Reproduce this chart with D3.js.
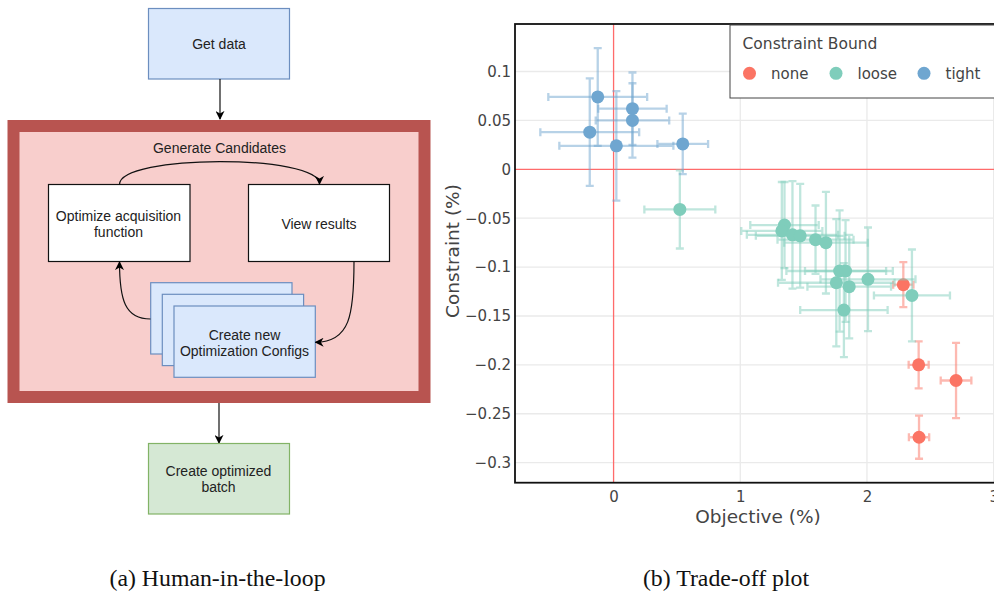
<!DOCTYPE html>
<html><head><meta charset="utf-8">
<script src="https://cdn.jsdelivr.net/npm/d3@7/dist/d3.min.js"></script>
<style>html,body{margin:0;padding:0;background:#fff;}svg{display:block;}</style>
</head><body>
<svg id="c" width="994" height="592"></svg>
<script>
// ---------- data ----------
const bounds = ["none", "loose", "tight"];
const boundColors = ["#fb7464", "#7fcdbb", "#6fa6d0"];

const noneObjective  = [2.287, 2.408, 2.703, 2.411];
const noneConstraint = [-0.118, -0.200, -0.216, -0.274];
const noneObjErr     = [0.08, 0.079, 0.121, 0.08];
const noneConErr     = [0.023, 0.024, 0.0385, 0.022];

const looseObjective  = [0.523, 1.349, 1.328, 1.412, 1.473, 1.594, 1.676, 1.784, 1.831, 1.758, 1.860, 2.008, 2.355, 1.818];
const looseConstraint = [-0.041, -0.057, -0.063, -0.067, -0.068, -0.072, -0.075, -0.104, -0.104, -0.116, -0.120, -0.1125, -0.129, -0.144];
const looseObjErr     = [0.28, 0.27, 0.32, 0.36, 0.35, 0.30, 0.33, 0.42, 0.32, 0.46, 0.33, 0.375, 0.30, 0.345];
const looseConErr     = [0.040, 0.044, 0.050, 0.055, 0.053, 0.035, 0.052, 0.062, 0.052, 0.065, 0.053, 0.053, 0.047, 0.048];

const tightObjective  = [-0.125, 0.149, 0.149, -0.188, 0.022, 0.546];
const tightConstraint = [0.074, 0.062, 0.050, 0.038, 0.024, 0.026];
const tightObjErr     = [0.39, 0.27, 0.29, 0.39, 0.45, 0.20];
const tightConErr     = [0.05, 0.037, 0.038, 0.055, 0.056, 0.031];

const xTickValues = [0, 1, 2, 3];
const xTickLabels = ["0", "1", "2", "3"];
const yTickValues = [-0.3, -0.25, -0.2, -0.15, -0.1, -0.05, 0, 0.05, 0.1];
const yTickLabels = ["\u22120.3", "\u22120.25", "\u22120.2", "\u22120.15", "\u22120.1", "\u22120.05", "0", "0.05", "0.1"];

// ---------- setup ----------
const svg = d3.select("#c");
svg.append("rect").attr("width", 994).attr("height", 592).attr("fill", "#fff");

const defs = svg.append("defs");
defs.append("marker").attr("id", "arr")
  .attr("viewBox", "0 0 10 10").attr("refX", 9).attr("refY", 5)
  .attr("markerUnits", "userSpaceOnUse").attr("markerWidth", 9).attr("markerHeight", 9)
  .attr("orient", "auto")
  .append("path").attr("d", "M0,0 L10,5 L0,10 L3,5 Z").attr("fill", "#000");

// ---------- (a) flow diagram ----------
const fc = svg.append("g").attr("font-family", "'Liberation Sans', Arial, sans-serif")
  .attr("font-size", 14).attr("fill", "#222");

function box(x, y, w, h, fill, stroke, sw) {
  fc.append("rect").attr("x", x).attr("y", y).attr("width", w).attr("height", h)
    .attr("fill", fill).attr("stroke", stroke).attr("stroke-width", sw || 1.2);
}
function label(x, y, lines) {
  lines.forEach((t, i) => fc.append("text").attr("x", x).attr("y", y + i * 16)
    .attr("text-anchor", "middle").attr("fill", "#222").text(t));
}
function arrow(d) {
  fc.append("path").attr("d", d).attr("fill", "none").attr("stroke", "#111")
    .attr("stroke-width", 1.2).attr("marker-end", "url(#arr)");
}

box(148.5, 8.5, 141, 70.5, "#dae8fc", "#6c8ebf");
label(219, 49, ["Get data"]);
arrow("M220,79 L220,119");

box(13.5, 126, 411, 271, "#f8cecc", "#b85450", 12);
label(219.5, 153, ["Generate Candidates"]);

box(48.5, 184.5, 141.5, 77, "#fff", "#111");
label(118.5, 221, ["Optimize acquisition", "function"]);
box(248.5, 184.5, 141, 77, "#fff", "#111");
label(319, 229, ["View results"]);

arrow("M119.5,184.5 C119.5,154 319.5,154 319.5,184");

box(150.7, 282.7, 141.3, 71.3, "#dae8fc", "#6c8ebf");
box(162.3, 294.3, 141.3, 71.3, "#dae8fc", "#6c8ebf");
box(174, 306, 141.3, 71.3, "#dae8fc", "#6c8ebf");
label(244.5, 340, ["Create new", "Optimization Configs"]);

arrow("M150.5,319 C125,319 119.5,300 119.5,262");
arrow("M354,261.5 C354,315 350,342 315.5,342.3");

arrow("M219,403 L219,443");
box(148.5, 443.5, 141, 70.5, "#d5e8d4", "#82b366");
label(218.5, 476, ["Create optimized", "batch"]);

svg.append("text").attr("x", 217.5).attr("y", 586).attr("text-anchor", "middle")
  .attr("font-family", "'Liberation Serif', 'Times New Roman', serif").attr("font-size", 23.8)
  .attr("fill", "#111").text("(a) Human-in-the-loop");

// ---------- (b) trade-off plot ----------
const plotL = 515, plotR = 1000, plotT = 24, plotB = 482.7;
const x = d3.scaleLinear().domain([-0.778, 3.05]).range([plotL, plotR]);
const y = d3.scaleLinear().domain([-0.3205, 0.1486]).range([plotB, plotT]);

const pg = svg.append("g");
// gridlines
pg.selectAll("line.gx").data(xTickValues.filter(v => v !== 0)).join("line")
  .attr("x1", d => x(d)).attr("x2", d => x(d)).attr("y1", plotT).attr("y2", plotB)
  .attr("stroke", "#eaeaea").attr("stroke-width", 1.3);
pg.selectAll("line.gy").data(yTickValues.filter(v => v !== 0)).join("line")
  .attr("y1", d => y(d)).attr("y2", d => y(d)).attr("x1", plotL).attr("x2", plotR)
  .attr("stroke", "#eaeaea").attr("stroke-width", 1.3);
// zero lines
pg.append("line").attr("x1", x(0)).attr("x2", x(0)).attr("y1", plotT).attr("y2", plotB)
  .attr("stroke", "#ff6b6b").attr("stroke-width", 1.3);
pg.append("line").attr("y1", y(0)).attr("y2", y(0)).attr("x1", plotL).attr("x2", plotR)
  .attr("stroke", "#ff6b6b").attr("stroke-width", 1.3);

// series
const series = [
  { name: bounds[0], color: boundColors[0], ox: noneObjective, oy: noneConstraint, ex: noneObjErr, ey: noneConErr },
  { name: bounds[1], color: boundColors[1], ox: looseObjective, oy: looseConstraint, ex: looseObjErr, ey: looseConErr },
  { name: bounds[2], color: boundColors[2], ox: tightObjective, oy: tightConstraint, ex: tightObjErr, ey: tightConErr }
];
const cap = 4;
series.forEach(s => {
  const pts = s.ox.map((v, i) => ({ x: v, y: s.oy[i], ex: s.ex[i], ey: s.ey[i] }));
  const g = pg.append("g");
  const eb = g.append("g").attr("stroke", s.color).attr("stroke-opacity", 0.5)
    .attr("stroke-width", 2.3).attr("fill", "none");
  pts.forEach(p => {
    const cx = x(p.x), cy = y(p.y);
    const x0 = x(p.x - p.ex), x1 = x(p.x + p.ex), y0 = y(p.y - p.ey), y1 = y(p.y + p.ey);
    eb.append("path").attr("d",
      `M${x0},${cy}H${x1}M${x0},${cy - cap}V${cy + cap}M${x1},${cy - cap}V${cy + cap}` +
      `M${cx},${y0}V${y1}M${cx - cap},${y0}H${cx + cap}M${cx - cap},${y1}H${cx + cap}`);
  });
  g.selectAll("circle").data(pts).join("circle")
    .attr("cx", d => x(d.x)).attr("cy", d => y(d.y)).attr("r", 6.5).attr("fill", s.color);
});

// frame
pg.append("rect").attr("x", plotL).attr("y", plotT).attr("width", plotR - plotL).attr("height", plotB - plotT)
  .attr("fill", "none").attr("stroke", "#111").attr("stroke-width", 1.8);

// axes
const tickFont = "'DejaVu Sans', Verdana, sans-serif";
const xAxis = d3.axisBottom(x).tickValues(xTickValues).tickSize(0).tickPadding(9)
  .tickFormat((d, i) => xTickLabels[i]);
const gx = svg.append("g").attr("transform", `translate(0,${plotB})`).call(xAxis);
gx.select(".domain").remove();
gx.selectAll("text").attr("font-family", tickFont).attr("font-size", 15).attr("fill", "#444");

const yAxis = d3.axisLeft(y).tickValues(yTickValues).tickSize(0).tickPadding(4)
  .tickFormat((d, i) => yTickLabels[i]);
const gy = svg.append("g").attr("transform", `translate(${plotL},0)`).call(yAxis);
gy.select(".domain").remove();
gy.selectAll("text").attr("font-family", tickFont).attr("font-size", 15).attr("fill", "#444");

svg.append("text").attr("x", 758).attr("y", 523).attr("text-anchor", "middle")
  .attr("font-family", tickFont).attr("font-size", 18.5).attr("fill", "#444").text("Objective (%)");
svg.append("text").attr("transform", "translate(459,251) rotate(-90)").attr("text-anchor", "middle")
  .attr("font-family", tickFont).attr("font-size", 18.5).attr("fill", "#444").text("Constraint (%)");

// legend
const lg = svg.append("g").attr("font-family", tickFont).attr("fill", "#444");
lg.append("rect").attr("x", 730).attr("y", 25).attr("width", 280).attr("height", 73)
  .attr("fill", "#fff").attr("stroke", "#444").attr("stroke-width", 1);
lg.append("text").attr("x", 742.5).attr("y", 48.5).attr("font-size", 15.5).text("Constraint Bound");
const legX = [749.5, 836, 924];
bounds.forEach((b, i) => {
  lg.append("circle").attr("cx", legX[i]).attr("cy", 73.3).attr("r", 6.5).attr("fill", boundColors[i]);
  lg.append("text").attr("x", legX[i] + 21.5).attr("y", 78.5).attr("font-size", 15).text(b);
});

svg.append("text").attr("x", 726).attr("y", 586).attr("text-anchor", "middle")
  .attr("font-family", "'Liberation Serif', 'Times New Roman', serif").attr("font-size", 23.8)
  .attr("fill", "#111").text("(b) Trade-off plot");
</script>
</body></html>
